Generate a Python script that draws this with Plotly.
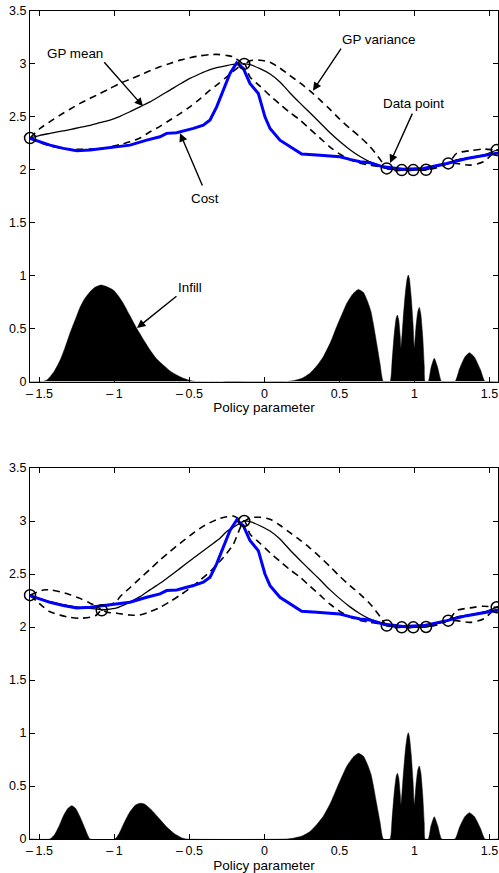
import plotly.graph_objects as go

# ---------------- data ----------------
# Cost curve (same in both panels)
cost_x = [-1.563, -1.497, -1.43, -1.341, -1.252, -1.163, -1.075, -0.985, -0.897, -0.785,
          -0.697, -0.652, -0.585, -0.519, -0.474, -0.408, -0.363, -0.319, -0.275, -0.23,
          -0.185, -0.141, -0.097, -0.041, 0.003, 0.037, 0.103, 0.17, 0.248, 0.348,
          0.503, 0.57, 0.637, 0.703, 0.79, 0.925, 1.059, 1.215, 1.348, 1.559]
cost_y = [2.296, 2.264, 2.233, 2.202, 2.18, 2.186, 2.202, 2.217, 2.233, 2.28,
          2.312, 2.344, 2.35, 2.375, 2.391, 2.422, 2.47, 2.595, 2.753, 2.91,
          3.01, 2.957, 2.816, 2.72, 2.50, 2.39, 2.28, 2.217, 2.148, 2.139,
          2.123, 2.098, 2.076, 2.066, 2.028, 2.004, 2.013, 2.06, 2.107, 2.16]

# GP right-hand part (shared by both panels, from the peak data point onwards)
right_x = [-0.135, -0.097, -0.03, 0.037, 0.103, 0.17, 0.237, 0.303, 0.37, 0.437, 0.5,
           0.57, 0.637, 0.703, 0.77, 0.815, 0.87, 0.915, 0.95, 0.992, 1.03, 1.077,
           1.15, 1.225, 1.281, 1.37, 1.459, 1.548, 1.557]
right_mean = [3.0, 2.993, 2.955, 2.905, 2.83, 2.726, 2.63, 2.538, 2.445, 2.35, 2.27,
              2.19, 2.125, 2.075, 2.04, 2.013, 2.0, 1.997, 1.995, 1.997, 1.998, 2.0,
              2.03, 2.06, 2.095, 2.115, 2.14, 2.186, 2.19]
right_upper = [3.0, 3.03, 3.035, 3.016, 2.96, 2.89, 2.82, 2.745, 2.66, 2.57, 2.48,
               2.39, 2.31, 2.22, 2.1, 2.013, 2.01, 1.997, 2.0, 1.997, 2.0, 2.0,
               2.035, 2.06, 2.155, 2.18, 2.196, 2.186, 2.19]
right_lower = [3.0, 2.878, 2.79, 2.70, 2.62, 2.54, 2.47, 2.385, 2.30, 2.215, 2.15,
               2.095, 2.062, 2.045, 2.028, 2.013, 1.992, 1.997, 1.99, 1.997, 1.995, 2.0,
               2.02, 2.06, 2.06, 2.044, 2.076, 2.186, 2.19]

# Top panel: left part of GP
top_left_x = [-1.563, -1.497, -1.43, -1.363, -1.297, -1.23, -1.163, -1.097, -1.03, -0.963,
              -0.897, -0.83, -0.763, -0.697, -0.63, -0.563, -0.497, -0.43, -0.363, -0.319,
              -0.252, -0.208]
top_left_mean = [2.30, 2.325, 2.344, 2.362, 2.38, 2.40, 2.42, 2.445, 2.47, 2.505,
                 2.548, 2.595, 2.642, 2.697, 2.753, 2.81, 2.863, 2.907, 2.946, 2.965,
                 2.985, 2.995]
top_left_upper = [2.30, 2.39, 2.455, 2.517, 2.572, 2.627, 2.675, 2.72, 2.768, 2.816,
                  2.855, 2.894, 2.935, 2.973, 3.005, 3.036, 3.058, 3.077, 3.088, 3.09,
                  3.08, 3.067]
top_left_lower = [2.30, 2.255, 2.225, 2.205, 2.197, 2.193, 2.195, 2.198, 2.217, 2.238,
                  2.264, 2.30, 2.359, 2.41, 2.47, 2.53, 2.595, 2.67, 2.753, 2.80,
                  2.878, 2.93]

# Bottom panel: left part of GP
bot_left_x = [-1.563, -1.475, -1.43, -1.363, -1.297, -1.23, -1.163, -1.119, -1.085, -1.052,
              -0.985, -0.963, -0.897, -0.83, -0.763, -0.697, -0.63, -0.563, -0.497, -0.43,
              -0.363, -0.297, -0.252, -0.208]
bot_left_mean = [2.30, 2.255, 2.239, 2.218, 2.198, 2.185, 2.176, 2.17, 2.162, 2.165,
                 2.18, 2.192, 2.235, 2.286, 2.35, 2.412, 2.482, 2.553, 2.625, 2.695,
                 2.766, 2.837, 2.9, 2.94]
bot_left_upper = [2.30, 2.349, 2.35, 2.333, 2.305, 2.27, 2.225, 2.198, 2.162, 2.192,
                  2.245, 2.286, 2.37, 2.459, 2.545, 2.632, 2.712, 2.79, 2.862, 2.931,
                  2.985, 3.025, 3.04, 3.047]
bot_left_lower = [2.30, 2.19, 2.144, 2.112, 2.091, 2.082, 2.092, 2.113, 2.162, 2.14,
                  2.13, 2.125, 2.113, 2.113, 2.144, 2.185, 2.239, 2.3, 2.365, 2.44,
                  2.522, 2.62, 2.695, 2.78]

# Data points
top_pts_x = [-1.563, -0.135, 0.815, 0.915, 0.992, 1.077, 1.225, 1.548]
top_pts_y = [2.30, 3.0, 2.013, 1.997, 1.997, 2.0, 2.06, 2.186]
bot_pts_x = [-1.563, -1.085, -0.135, 0.815, 0.915, 0.992, 1.077, 1.225, 1.548]
bot_pts_y = [2.30, 2.157, 3.0, 2.013, 1.997, 1.997, 2.0, 2.06, 2.186]

# Infill (top panel)
top_infill_x = [-1.563, -1.48, -1.45, -1.43, -1.40, -1.363, -1.33, -1.297, -1.26, -1.23,
                -1.20, -1.163, -1.13, -1.09, -1.05, -1.008, -0.975, -0.941, -0.90, -0.852,
                -0.80, -0.763, -0.72, -0.675, -0.63, -0.585, -0.54, -0.497, -0.46,
                0.15, 0.20, 0.25, 0.303, 0.35, 0.392, 0.44, 0.481, 0.515, 0.548, 0.59,
                0.626, 0.66, 0.692, 0.71, 0.725, 0.748, 0.77, 0.792,
                0.837, 0.85, 0.865, 0.878, 0.886, 0.895, 0.905, 0.91,
                0.925, 0.94, 0.952, 0.959, 0.966, 0.978, 0.99, 0.999,
                1.01, 1.022, 1.032, 1.042, 1.055, 1.065, 1.07,
                1.092, 1.11, 1.132, 1.155, 1.181,
                1.27, 1.30, 1.335, 1.366, 1.40, 1.44, 1.47, 1.557]
top_infill_y = [0, 0, 0.015, 0.045, 0.10, 0.20, 0.32, 0.455, 0.59, 0.70,
                0.78, 0.848, 0.89, 0.911, 0.895, 0.864, 0.81, 0.738, 0.63, 0.502,
                0.38, 0.297, 0.215, 0.156, 0.10, 0.061, 0.03, 0.01, 0,
                0, 0.01, 0.03, 0.077, 0.15, 0.234, 0.37, 0.517, 0.63, 0.738, 0.83,
                0.87, 0.84, 0.738, 0.66, 0.55, 0.36, 0.17, 0,
                0, 0.18, 0.45, 0.60, 0.628, 0.58, 0.42, 0.313,
                0.60, 0.85, 0.98, 1.006, 0.97, 0.80, 0.55, 0.313,
                0.52, 0.66, 0.70, 0.64, 0.42, 0.15, 0,
                0, 0.13, 0.219, 0.13, 0,
                0, 0.12, 0.23, 0.272, 0.23, 0.11, 0, 0]

# Infill (bottom panel)
bot_infill_x = [-1.563, -1.43, -1.40, -1.37, -1.34, -1.31, -1.285, -1.26, -1.23, -1.20, -1.18, -1.163,
                -0.997, -0.97, -0.94, -0.90, -0.86, -0.83, -0.80, -0.75, -0.70, -0.65, -0.60, -0.55, -0.52,
                0.15, 0.20, 0.25, 0.303, 0.35, 0.392, 0.44, 0.481, 0.515, 0.548, 0.59,
                0.626, 0.66, 0.692, 0.71, 0.725, 0.748, 0.77, 0.792,
                0.837, 0.85, 0.865, 0.878, 0.886, 0.895, 0.905, 0.91,
                0.925, 0.94, 0.952, 0.959, 0.966, 0.978, 0.99, 0.999,
                1.01, 1.022, 1.032, 1.042, 1.055, 1.065, 1.07,
                1.092, 1.11, 1.132, 1.155, 1.181,
                1.27, 1.30, 1.335, 1.366, 1.40, 1.44, 1.47, 1.557]
bot_infill_y = [0, 0, 0.04, 0.12, 0.22, 0.29, 0.314, 0.29, 0.21, 0.11, 0.04, 0,
                0, 0.05, 0.14, 0.25, 0.32, 0.337, 0.33, 0.27, 0.19, 0.11, 0.05, 0.01, 0,
                0, 0.01, 0.028, 0.07, 0.14, 0.215, 0.34, 0.475, 0.585, 0.685, 0.77,
                0.808, 0.78, 0.685, 0.61, 0.51, 0.33, 0.16, 0,
                0, 0.18, 0.44, 0.59, 0.62, 0.575, 0.42, 0.32,
                0.60, 0.85, 0.975, 1.003, 0.965, 0.80, 0.55, 0.32,
                0.51, 0.65, 0.689, 0.63, 0.41, 0.15, 0,
                0, 0.125, 0.21, 0.125, 0,
                0, 0.11, 0.21, 0.248, 0.21, 0.10, 0, 0]

x_ticks = [-1.5, -1, -0.5, 0, 0.5, 1, 1.5]
x_tick_text = ["\u2013\u20091.5", "\u2013\u20091", "\u2013\u20090.5", "0", "0.5", "1", "1.5"]
y_ticks = [0, 0.5, 1, 1.5, 2, 2.5, 3, 3.5]
y_tick_text = ["0", "0.5", "1", "1.5", "2", "2.5", "3", "3.5"]

# ---------------- figure ----------------
W, H = 499, 873
FONT = "Liberation Sans, Arial, Helvetica, sans-serif"
fig = go.Figure()

panels = [
    ("x", "y", top_left_x, top_left_mean, top_left_upper, top_left_lower,
     top_pts_x, top_pts_y, top_infill_x, top_infill_y),
    ("x2", "y2", bot_left_x, bot_left_mean, bot_left_upper, bot_left_lower,
     bot_pts_x, bot_pts_y, bot_infill_x, bot_infill_y),
]

for xa, ya, lx, lm, lu, ll, px, py, ix, iy in panels:
    gx = lx + right_x
    fig.add_trace(go.Scatter(x=ix, y=iy, xaxis=xa, yaxis=ya, mode="lines",
                             fill="tozeroy", fillcolor="black",
                             line=dict(color="black", width=0.5, shape="spline", smoothing=0.5),
                             showlegend=False))
    fig.add_trace(go.Scatter(x=gx, y=lu + right_upper, xaxis=xa, yaxis=ya, mode="lines",
                             line=dict(color="black", width=1.6, dash="7px,5px", shape="spline", smoothing=0.8),
                             showlegend=False))
    fig.add_trace(go.Scatter(x=gx, y=ll + right_lower, xaxis=xa, yaxis=ya, mode="lines",
                             line=dict(color="black", width=1.6, dash="7px,5px", shape="spline", smoothing=0.8),
                             showlegend=False))
    fig.add_trace(go.Scatter(x=gx, y=lm + right_mean, xaxis=xa, yaxis=ya, mode="lines",
                             line=dict(color="black", width=1.3, shape="spline", smoothing=0.8),
                             showlegend=False))
    fig.add_trace(go.Scatter(x=cost_x, y=cost_y, xaxis=xa, yaxis=ya, mode="lines",
                             line=dict(color="#0000ff", width=3), showlegend=False))
    fig.add_trace(go.Scatter(x=px, y=py, xaxis=xa, yaxis=ya, mode="markers",
                             marker=dict(symbol="circle-open", size=11, color="black",
                                         line=dict(width=1.5, color="black")),
                             cliponaxis=False, showlegend=False))

XRANGE = [-1.5633, 1.5567]
axis_common = dict(showline=True, linecolor="black", linewidth=1, mirror="ticks",
                   ticks="inside", ticklen=5, tickwidth=1, tickcolor="black",
                   showgrid=False, zeroline=False,
                   tickfont=dict(family=FONT, size=12.5, color="black"))
xtitle = dict(text="Policy parameter", standoff=3, font=dict(family=FONT, size=13.5))

fig.update_layout(
    width=W, height=H, margin=dict(l=0, r=0, t=0, b=0),
    paper_bgcolor="white", plot_bgcolor="white",
    font=dict(family=FONT, size=12.5, color="black"),
    xaxis=dict(domain=[30 / W, 498 / W], range=XRANGE, anchor="y", tickvals=x_ticks,
               ticktext=x_tick_text, title=xtitle, automargin=False, **axis_common),
    yaxis=dict(domain=[1 - 381.5 / H, 1 - 11 / H], range=[0, 3.5], anchor="x",
               tickvals=y_ticks, ticktext=y_tick_text, automargin=False, **axis_common),
    xaxis2=dict(domain=[30 / W, 498 / W], range=XRANGE, anchor="y2", tickvals=x_ticks,
                ticktext=x_tick_text, title=xtitle, automargin=False, **axis_common),
    yaxis2=dict(domain=[1 - 839 / H, 1 - 468 / H], range=[0, 3.5], anchor="x2",
                tickvals=y_ticks, ticktext=y_tick_text, automargin=False, **axis_common),
)

# annotations (top panel): labels + arrows
labels = [
    ("GP mean", -1.263, 3.10),
    ("Cost", -0.397, 1.733),
    ("GP variance", 0.757, 3.234),
    ("Data point", 0.99, 2.63),
    ("Infill", -0.497, 0.892),
]
for t, xx, yy in labels:
    fig.add_annotation(x=xx, y=yy, xref="x", yref="y", text=t, showarrow=False,
                       font=dict(family=FONT, size=13.4, color="black"))

arrows = [
    (-0.81, 2.60, -1.077, 3.03),
    (-0.563, 2.346, -0.41, 1.837),
    (0.323, 2.747, 0.517, 3.159),
    (0.837, 2.064, 0.99, 2.545),
    (-0.85, 0.505, -0.577, 0.817),
]
for tx, ty, sx, sy in arrows:
    fig.add_annotation(x=tx, y=ty, ax=sx, ay=sy, xref="x", yref="y", axref="x", ayref="y",
                       text="", showarrow=True, arrowhead=2, arrowsize=1.2, arrowwidth=1.4,
                       arrowcolor="black", standoff=0, startstandoff=0)

fig.write_html("out.html")
